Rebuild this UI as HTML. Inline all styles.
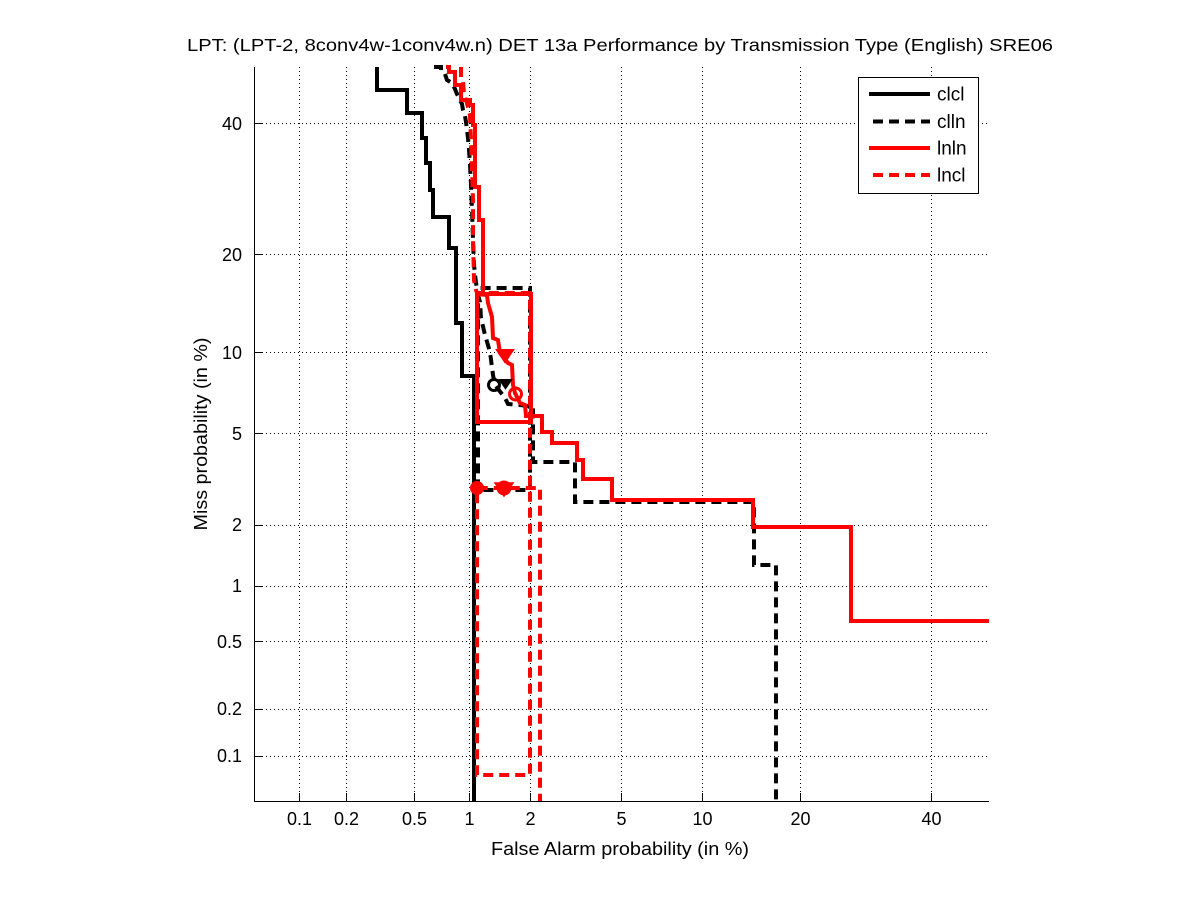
<!DOCTYPE html>
<html>
<head>
<meta charset="utf-8">
<style>
  html,body{margin:0;padding:0;background:#fff;}
  svg{display:block;}
  text{font-family:"Liberation Sans",Arial,sans-serif;fill:#000;}
</style>
</head>
<body>
<svg width="1201" height="900" viewBox="0 0 1201 900" xmlns="http://www.w3.org/2000/svg">
  <rect x="0" y="0" width="1201" height="900" fill="#fff"/>

  <!-- grid (dotted) -->
  <g stroke="#000" stroke-width="1" stroke-dasharray="1,3" fill="none">
    <line x1="299.5" y1="67" x2="299.5" y2="801"/>
    <line x1="346.5" y1="67" x2="346.5" y2="801"/>
    <line x1="414.5" y1="67" x2="414.5" y2="801"/>
    <line x1="469.5" y1="67" x2="469.5" y2="801"/>
    <line x1="530.5" y1="67" x2="530.5" y2="801"/>
    <line x1="621.5" y1="67" x2="621.5" y2="801"/>
    <line x1="702.5" y1="67" x2="702.5" y2="801"/>
    <line x1="800.5" y1="67" x2="800.5" y2="801"/>
    <line x1="931.5" y1="67" x2="931.5" y2="801"/>

    <line x1="254" y1="123.5" x2="989" y2="123.5"/>
    <line x1="254" y1="254.5" x2="989" y2="254.5"/>
    <line x1="254" y1="352.5" x2="989" y2="352.5"/>
    <line x1="254" y1="433.5" x2="989" y2="433.5"/>
    <line x1="254" y1="525.5" x2="989" y2="525.5"/>
    <line x1="254" y1="586.5" x2="989" y2="586.5"/>
    <line x1="254" y1="641.5" x2="989" y2="641.5"/>
    <line x1="254" y1="709.5" x2="989" y2="709.5"/>
    <line x1="254" y1="756.5" x2="989" y2="756.5"/>
  </g>

  <!-- axes -->
  <g stroke="#000" stroke-width="1" fill="none">
    <line x1="254.5" y1="67" x2="254.5" y2="801.5"/>
    <line x1="254" y1="801.5" x2="989" y2="801.5"/>
    <!-- x ticks -->
    <line x1="299.5" y1="801" x2="299.5" y2="793"/>
    <line x1="346.5" y1="801" x2="346.5" y2="793"/>
    <line x1="414.5" y1="801" x2="414.5" y2="793"/>
    <line x1="469.5" y1="801" x2="469.5" y2="793"/>
    <line x1="530.5" y1="801" x2="530.5" y2="793"/>
    <line x1="621.5" y1="801" x2="621.5" y2="793"/>
    <line x1="702.5" y1="801" x2="702.5" y2="793"/>
    <line x1="800.5" y1="801" x2="800.5" y2="793"/>
    <line x1="931.5" y1="801" x2="931.5" y2="793"/>
    <!-- y ticks -->
    <line x1="254" y1="123.5" x2="262" y2="123.5"/>
    <line x1="254" y1="254.5" x2="262" y2="254.5"/>
    <line x1="254" y1="352.5" x2="262" y2="352.5"/>
    <line x1="254" y1="433.5" x2="262" y2="433.5"/>
    <line x1="254" y1="525.5" x2="262" y2="525.5"/>
    <line x1="254" y1="586.5" x2="262" y2="586.5"/>
    <line x1="254" y1="641.5" x2="262" y2="641.5"/>
    <line x1="254" y1="709.5" x2="262" y2="709.5"/>
    <line x1="254" y1="756.5" x2="262" y2="756.5"/>
  </g>

  <!-- x tick labels -->
  <g font-size="18" text-anchor="middle">
    <text x="299.5" y="825">0.1</text>
    <text x="346.5" y="825">0.2</text>
    <text x="414.5" y="825">0.5</text>
    <text x="469.5" y="825">1</text>
    <text x="530.5" y="825">2</text>
    <text x="621.5" y="825">5</text>
    <text x="702.5" y="825">10</text>
    <text x="800.5" y="825">20</text>
    <text x="931.5" y="825">40</text>
  </g>
  <!-- y tick labels -->
  <g font-size="18" text-anchor="end">
    <text x="242" y="130">40</text>
    <text x="242" y="261">20</text>
    <text x="242" y="359">10</text>
    <text x="242" y="440">5</text>
    <text x="242" y="531">2</text>
    <text x="242" y="592">1</text>
    <text x="242" y="648">0.5</text>
    <text x="242" y="715">0.2</text>
    <text x="242" y="762">0.1</text>
  </g>

  <!-- title and labels -->
  <text x="620" y="51" font-size="17.5" text-anchor="middle" textLength="866" lengthAdjust="spacingAndGlyphs">LPT: (LPT-2, 8conv4w-1conv4w.n) DET 13a Performance by Transmission Type (English) SRE06</text>
  <text x="620" y="855" font-size="18" text-anchor="middle" textLength="258" lengthAdjust="spacingAndGlyphs">False Alarm probability (in %)</text>
  <text transform="translate(207,434) rotate(-90)" x="0" y="0" font-size="18" text-anchor="middle" textLength="193" lengthAdjust="spacingAndGlyphs">Miss probability (in %)</text>

  <!-- clcl : black solid -->
  <path fill="none" stroke="#000" stroke-width="4" stroke-linejoin="miter"
    d="M377,67 L377,90 L407,90 L407,113 L422,113 L422,138 L426,138 L426,163 L430,163 L430,190 L433,190 L433,217 L449,217 L449,248 L456,248 L456,323 L462,323 L462,376 L474,376 L474,801"/>

  <!-- clln : black dashed -->
  <path fill="none" stroke="#000" stroke-width="4" stroke-dasharray="10,6"
    d="M434,67 L441,67 L441,71 L445,74 L447,80 L452,83 L455,89 L457,94 L460,100 L462,104 L463,110 L465,116 L466,122 L467,130 L468,138 L469,150 L470,165 L471,185 L472,210 L473,240 L474,265 L476,283 L477,288 L530,288 L530,490 L478,490 L478,295 L480,302 L481,318 L485,335 L490,352 L493,375 L495,385 L505,398 L508,404 L520,405 L528,406 L533,407 L533,462 L575,462 L575,502 L754,502 L754,565 L776,565 L776,801"/>

  <!-- lnln : red solid -->
  <path fill="none" stroke="#f00" stroke-width="4"
    d="M446,67 L449,67 L449,72 L455,72 L455,85 L461,85 L461,100 L470,100 L470,105 L473,105 L473,125 L475,125 L475,187 L479,187 L479,220 L483,220 L483,294 L531,294 L531,422 L477,422 L477,294 L487,295 L488,303 L492,317 L493,338 L498,340 L500,353 L508,363 L512,365 L513,385 L515,393 L520,403 L525,405 L526,416 L542,416 L542,432 L552,432 L552,443 L577,443 L577,460 L583,460 L583,479 L612,479 L612,500 L753,500 L753,527 L851,527 L851,621 L989,621"/>

  <!-- lncl : red dashed -->
  <path fill="none" stroke="#f00" stroke-width="4" stroke-dasharray="10,6"
    d="M461,67 L461,78 L463,80 L464,95 L466,100 L468,107 L470,115 L471,140 L472,170 L473,200 L473,240 L474,280 L476,290 L477,293 L530,293 L530,775 L477,775 L477,488 L540,488 L540,801"/>

  <!-- markers -->
  <circle cx="494" cy="385" r="5.5" fill="none" stroke="#000" stroke-width="3"/>
  <path d="M500,380 L511,380 L505.5,388 Z" fill="#000" stroke="#000" stroke-width="2"/>
  <path d="M497,350 L513,350 L505,362 Z" fill="#f00" stroke="#f00" stroke-width="2"/>
  <circle cx="515.5" cy="394" r="6" fill="none" stroke="#f00" stroke-width="3"/>
  <circle cx="477" cy="488" r="6" fill="#f00" stroke="#f00" stroke-width="2"/>
  <circle cx="504" cy="488" r="6" fill="none" stroke="#f00" stroke-width="3"/>
  <path d="M495,483 L513,483 L504,496 Z" fill="#f00" stroke="#f00" stroke-width="1.5"/>

  <!-- legend -->
  <rect x="858.5" y="77.5" width="120" height="116" fill="#fff" stroke="#000" stroke-width="1"/>
  <line x1="869" y1="94" x2="930" y2="94" stroke="#000" stroke-width="4"/>
  <line x1="873" y1="121.5" x2="930" y2="121.5" stroke="#000" stroke-width="4" stroke-dasharray="10,6"/>
  <line x1="869" y1="148" x2="930" y2="148" stroke="#f00" stroke-width="4"/>
  <line x1="873" y1="175" x2="930" y2="175" stroke="#f00" stroke-width="4" stroke-dasharray="10,6"/>
  <g font-size="19">
    <text x="937" y="100.5">clcl</text>
    <text x="937" y="128">clln</text>
    <text x="937" y="154.5">lnln</text>
    <text x="937" y="181.5">lncl</text>
  </g>
</svg>
</body>
</html>
